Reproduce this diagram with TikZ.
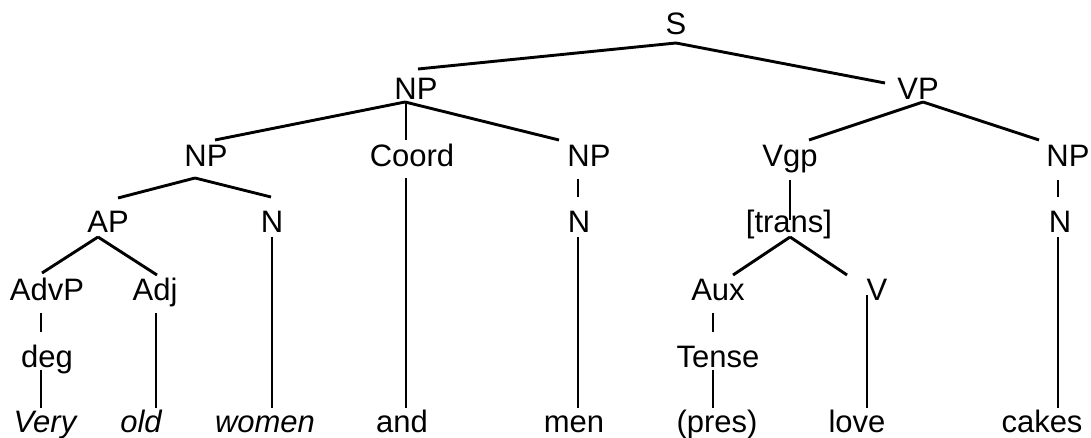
\documentclass[tikz,border=0pt]{standalone}
\usepackage{fontspec}
\setmainfont{Liberation Sans}
\begin{document}
\begin{tikzpicture}[x=1pt,y=-1pt,
  lab/.style={anchor=base,inner sep=0pt,font=\fontsize{31}{37}\selectfont},
  word/.style={lab,font=\fontsize{31}{37}\selectfont\itshape},
  br/.style={line width=2.9pt,black}]
\useasboundingbox (0,0) rectangle (1091,438);
% row 1
\node[lab] (S) at (676,35) {S};
% row 2
\node[lab] (NPa) at (416,100) {NP};
\node[lab] (VP) at (918,100) {VP};
% row 3
\node[lab] (NPb) at (206,167) {NP};
\node[lab] (Coord) at (412,167) {Coord};
\node[lab] (NPc) at (589,167) {NP};
\node[lab] (Vgp) at (790,167) {Vgp};
\node[lab] (NPd) at (1068,167) {NP};
% row 4
\node[lab] (AP) at (108,233) {AP};
\node[lab] (Na) at (272,233) {N};
\node[lab] (Nb) at (579,233) {N};
\node[lab] (trans) at (789,233) {[trans]};
\node[lab] (Nc) at (1060,233) {N};
% row 5
\node[lab] (AdvP) at (47,300) {AdvP};
\node[lab] (Adj) at (155,300) {Adj};
\node[lab] (Aux) at (718,300) {Aux};
\node[lab] (V) at (877,300) {V};
% row 6
\node[lab] (deg) at (47,367) {deg};
\node[lab] (Tense) at (718,367) {Tense};
% row 7
\node[word] (very) at (45,432) {Very};
\node[word] (old) at (141,432) {old};
\node[word] (women) at (265,432) {women};
\node[lab] (and) at (402,432) {and};
\node[lab] (men) at (574,432) {men};
\node[lab] (pres) at (717,432) {(pres)};
\node[lab] (love) at (857,432) {love};
\node[lab] (cakes) at (1042,432) {cakes};
% branches
\draw[br] ([shift={(0,8)}]S.base) -- ([shift={(2,-31)}]NPa.base);
\draw[br] ([shift={(0,8)}]S.base) -- ([shift={(-33,-17)}]VP.base);
\draw[br] ([shift={(-11,2)}]NPa.base) -- ([shift={(9,-27)}]NPb.base);
\draw[br] ([shift={(-10,2)}]NPa.base) -- ([shift={(-6,-27)}]Coord.base);
\draw[br] ([shift={(-11,2)}]NPa.base) -- ([shift={(-30,-27)}]NPc.base);
\draw[br] ([shift={(5,2)}]VP.base) -- ([shift={(19,-27)}]Vgp.base);
\draw[br] ([shift={(5,2)}]VP.base) -- ([shift={(-29,-27)}]NPd.base);
\draw[br] ([shift={(-11,11)}]NPb.base) -- ([shift={(10,-35)}]AP.base);
\draw[br] ([shift={(-11,11)}]NPb.base) -- ([shift={(-1,-36)}]Na.base);
\draw[br] ([shift={(-11,12)}]NPc.base) -- ([shift={(-1,-36)}]Nb.base);
\draw[br] ([shift={(-6,11)}]Coord.base) -- ([shift={(4,-24)}]and.base);
\draw[br] ([shift={(0,13)}]Vgp.base) -- ([shift={(1,-13)}]trans.base);
\draw[br] ([shift={(-10,13)}]NPd.base) -- ([shift={(-2,-36)}]Nc.base);
\draw[br] ([shift={(-10,4)}]AP.base) -- ([shift={(-5,-27)}]AdvP.base);
\draw[br] ([shift={(-10,4)}]AP.base) -- ([shift={(2,-25)}]Adj.base);
\draw[br] ([shift={(0,4)}]Na.base) -- ([shift={(7,-24)}]women.base);
\draw[br] ([shift={(-1,4)}]Nb.base) -- ([shift={(4,-24)}]men.base);
\draw[br] ([shift={(1,4)}]trans.base) -- ([shift={(15,-25)}]Aux.base);
\draw[br] ([shift={(1,4)}]trans.base) -- ([shift={(-30,-25)}]V.base);
\draw[br] ([shift={(-2,4)}]Nc.base) -- ([shift={(16,-24)}]cakes.base);
\draw[br] ([shift={(-6,13)}]AdvP.base) -- ([shift={(-6,-35)}]deg.base);
\draw[br] ([shift={(1,13)}]Adj.base) -- ([shift={(15,-24)}]old.base);
\draw[br] ([shift={(-5,13)}]Aux.base) -- ([shift={(-5,-35)}]Tense.base);
\draw[br] ([shift={(-10,-5)}]V.base) -- ([shift={(10,-24)}]love.base);
\draw[br] ([shift={(-6,3)}]deg.base) -- ([shift={(-4,-24)}]very.base);
\draw[br] ([shift={(-5,3)}]Tense.base) -- ([shift={(-4,-24)}]pres.base);
\end{tikzpicture}
\end{document}
